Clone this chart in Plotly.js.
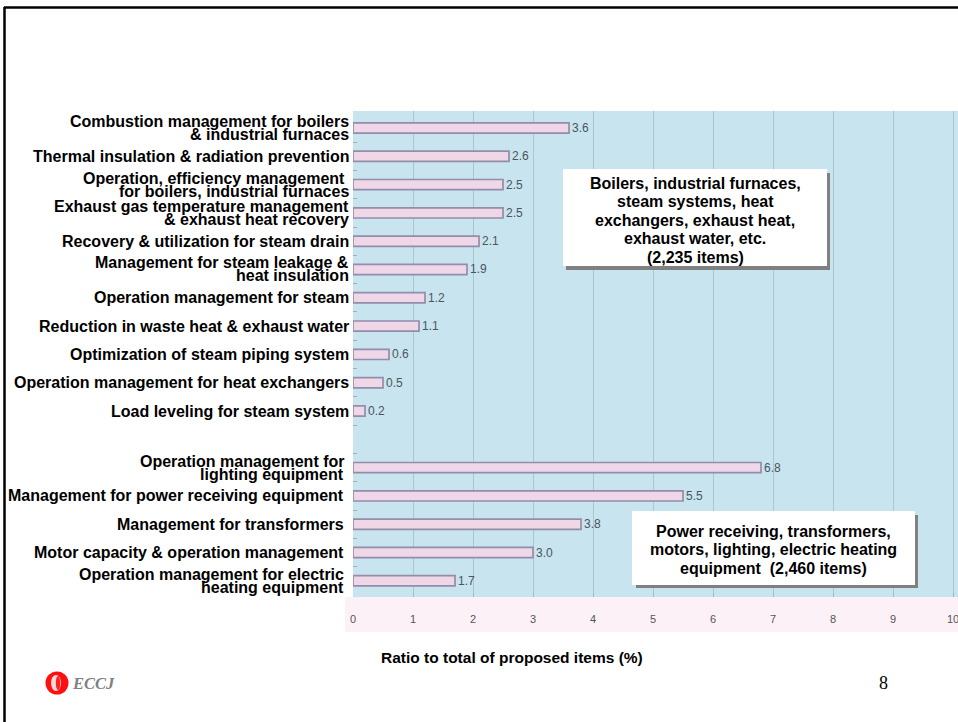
<!DOCTYPE html>
<html><head><meta charset="utf-8">
<script src="https://cdn.plot.ly/plotly-3.0.1.min.js"></script>
<style>html,body{margin:0;padding:0;background:#fff;}#chart{width:958px;height:722px;}</style>
</head><body><div id="chart"></div>
<script>
// ---------- data ----------
const heatCategories = [
  "Combustion management for boilers\n& industrial furnaces",
  "Thermal insulation & radiation prevention",
  "Operation, efficiency management\u00a0\nfor boilers, industrial furnaces",
  "Exhaust gas temperature management\n& exhaust heat recovery",
  "Recovery & utilization for steam drain",
  "Management for steam leakage &\nheat insulation",
  "Operation management for steam",
  "Reduction in waste heat & exhaust water",
  "Optimization of steam piping system",
  "Operation management for heat exchangers",
  "Load leveling for steam system"
];
const heatValues = [3.6, 2.6, 2.5, 2.5, 2.1, 1.9, 1.2, 1.1, 0.6, 0.5, 0.2];

const elecCategories = [
  "Operation management for\nlighting equipment",
  "Management for power receiving equipment",
  "Management for transformers",
  "Motor capacity & operation management",
  "Operation management for electric\nheating equipment"
];
const elecValues = [6.8, 5.5, 3.8, 3.0, 1.7];

const xTickValues = [0, 1, 2, 3, 4, 5, 6, 7, 8, 9, 10];
const xTickLabels = ["0", "1", "2", "3", "4", "5", "6", "7", "8", "9", "10"];

const heatBoxLines = ["Boilers, industrial furnaces,", "steam systems, heat", "exchangers, exhaust heat,", "exhaust water, etc.", "(2,235 items)"];
const elecBoxLines = ["Power receiving, transformers,", "motors, lighting, electric heating", "equipment  (2,460 items)"];
const xTitle = "Ratio to total of proposed items (%)";
const pageNumber = "8";
const logoText = "ECCJ";

// ---------- layout geometry ----------
const L = 353, R = 958, T = 111, B = 597;
const W = R - L, H = B - T;
const px = x => (x - L) / W;
const py = y => (B - y) / H;

const heatPos = heatCategories.map((_, i) => i);
const elecPos = elecCategories.map((_, i) => heatCategories.length + 1 + i);
const nSlots = heatCategories.length + 1 + elecCategories.length;

const SANS = "Liberation Sans, Arial, sans-serif";
const SERIF = "Liberation Serif, Times New Roman, serif";

const barStyle = {
  type: 'bar', orientation: 'h', width: 0.36,
  marker: { color: '#efd7e7', line: { color: '#948cab', width: 1.7 } },
  textposition: 'outside', constraintext: 'none', cliponaxis: false,
  textfont: { family: SANS, size: 12, color: '#4a5560' },
  hoverinfo: 'skip', showlegend: false
};

const traces = [
  Object.assign({}, barStyle, { x: heatValues, y: heatPos, text: heatValues.map(v => v.toFixed(1)) }),
  Object.assign({}, barStyle, { x: elecValues, y: elecPos, text: elecValues.map(v => v.toFixed(1)) })
];

const annotations = [];
const LINE = 13;
function addLabel(label, pos, xshift) {
  const lines = label.split("\n");
  lines.forEach((ln, k) => {
    const off = ((lines.length - 1) / 2 - k) * LINE;
    annotations.push({
      xref: 'paper', yref: 'y', x: 0, y: pos, xanchor: 'right', yanchor: 'middle',
      xshift: xshift, yshift: off, showarrow: false, text: ln,
      font: { family: SANS, size: 16, color: '#000', weight: 'bold' }
    });
  });
}
heatCategories.forEach((c, i) => addLabel(c, heatPos[i], -2));
elecCategories.forEach((c, i) => addLabel(c, elecPos[i], -7));

function addBoxText(lines, cx, firstY, step) {
  lines.forEach((ln, k) => {
    annotations.push({
      xref: 'paper', yref: 'paper', x: px(cx), y: py(firstY + k * step),
      xanchor: 'center', yanchor: 'middle', showarrow: false, text: ln,
      font: { family: SANS, size: 16, color: '#000', weight: 'bold' }
    });
  });
}
addBoxText(heatBoxLines, 695, 183, 18.5);
addBoxText(elecBoxLines, 773, 531, 18.5);

annotations.push({
  xref: 'paper', yref: 'paper', x: px(512), y: py(657), xanchor: 'center', yanchor: 'middle',
  showarrow: false, text: xTitle, font: { family: SANS, size: 15.5, color: '#000', weight: 'bold' }
});
annotations.push({
  xref: 'paper', yref: 'paper', x: px(883), y: py(683), xanchor: 'center', yanchor: 'middle',
  showarrow: false, text: pageNumber, font: { family: SERIF, size: 18, color: '#000' }
});
annotations.push({
  xref: 'paper', yref: 'paper', x: px(70), y: py(683), xanchor: 'left', yanchor: 'middle',
  showarrow: false, text: '<b><i>' + logoText + '</i></b>', font: { family: SERIF, size: 16.5, color: '#808080' }
});

function rect(x0, y0, x1, y1, fill, layer) {
  return { type: 'rect', xref: 'paper', yref: 'paper', x0: px(x0), x1: px(x1), y0: py(y1), y1: py(y0),
           fillcolor: fill, line: { width: 0 }, layer: layer || 'above' };
}
function circ(cx, cy, rx, ry, fill) {
  return { type: 'circle', xref: 'paper', yref: 'paper', x0: px(cx - rx), x1: px(cx + rx), y0: py(cy + ry), y1: py(cy - ry),
           fillcolor: fill, line: { width: 0 }, layer: 'above' };
}
function line(x0, y0, x1, y1, w) {
  return { type: 'line', xref: 'paper', yref: 'paper', x0: px(x0), x1: px(x1), y0: py(y0), y1: py(y1),
           line: { color: '#000', width: w }, layer: 'above' };
}

const shapes = [
  rect(345, 597, 958, 632, '#fdf1f8', 'below'),
  rect(566, 173, 830, 270, '#808080'),
  rect(563, 169, 827, 266, '#ffffff'),
  rect(636, 515, 918, 588, '#808080'),
  rect(632, 511, 915, 585, '#ffffff'),
  line(4, 7.5, 958, 7.5, 2.5),
  line(4.5, 7, 4.5, 722, 2.5),
  circ(57, 683, 11.5, 11.5, '#ff1010'),
  circ(56, 683, 5, 8, '#ffd8d8'),
  circ(58, 683, 2.2, 7, '#ff2020')
];

const halfTicks = [];
for (let i = 0; i < nSlots - 1; i++) halfTicks.push(i + 0.5);

const layout = {
  width: 958, height: 722,
  margin: { l: L, r: 958 - R, t: T, b: 722 - B, pad: 0 },
  paper_bgcolor: '#ffffff', plot_bgcolor: '#c8e4ee',
  showlegend: false,
  xaxis: {
    range: [0, (R - L) / 60], tickvals: xTickValues, ticktext: xTickLabels,
    showgrid: true, gridcolor: '#a9c6d3', gridwidth: 1, zeroline: false, showline: false,
    ticks: 'inside', ticklen: 4, tickcolor: '#9db6c2', ticklabelstandoff: 14, ticklabeloverflow: 'allow',
    tickfont: { family: SANS, size: 11, color: '#555555' }, fixedrange: true
  },
  yaxis: {
    range: [nSlots - 1 + 0.572, -0.6], tickvals: halfTicks, showticklabels: false,
    ticks: 'inside', ticklen: 4, tickcolor: '#a3adb5', showgrid: false, zeroline: false, showline: false,
    fixedrange: true
  },
  shapes: shapes,
  annotations: annotations
};

Plotly.newPlot('chart', traces, layout, { displayModeBar: false, staticPlot: true });
</script>
</body></html>
